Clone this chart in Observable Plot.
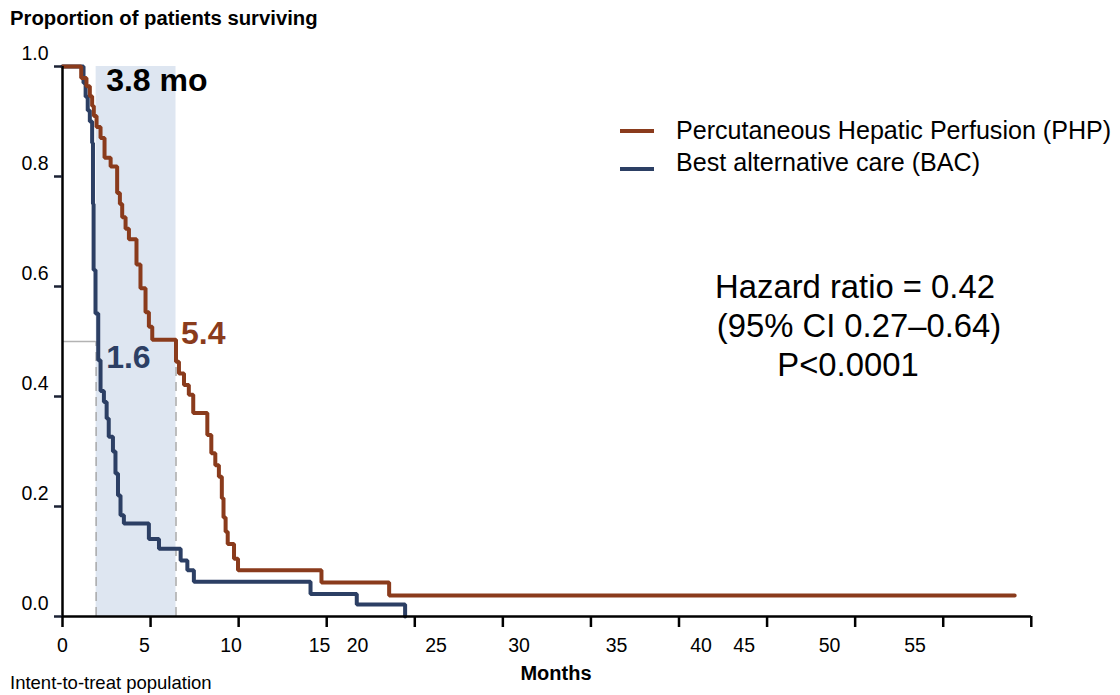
<!DOCTYPE html>
<html>
<head>
<meta charset="utf-8">
<script src="https://cdn.jsdelivr.net/npm/d3@7"></script>
<script src="https://cdn.jsdelivr.net/npm/@observablehq/plot@0.6"></script>
<style>
  html, body { margin: 0; padding: 0; background: #fff; }
  body { font-family: "Liberation Sans", Arial, sans-serif; color: #000; }
  #wrap { position: relative; width: 1120px; height: 695px; overflow: hidden; }
  #title { height: 36px; line-height: 36px; padding-left: 10px; font-weight: bold; font-size: 20.3px; }
  .abs { position: absolute; white-space: nowrap; }
  .swatch { position: absolute; width: 34px; height: 4px; }
</style>
</head>
<body>
<div id="wrap">
  <div id="title">Proportion of patients surviving</div>
  <div id="chart"></div>
  <div id="legend"></div>
  <div id="stats"></div>
  <div class="abs" id="caption" style="left:10px; top:671px; font-size:18.5px; line-height:24px;">Intent-to-treat population</div>
</div>
<script>
// ---- Data ----
const seriesNames = ["Percutaneous Hepatic Perfusion (PHP)", "Best alternative care (BAC)"];
const seriesColors = ["#8a3b1c", "#2c3f64"];

// Kaplan–Meier step points: month of event, survival after event
const phpMonths = [0, 0.89, 1.14, 1.30, 1.41, 1.49, 1.62, 1.81, 2.00, 2.29, 2.60, 2.73, 2.84, 3.00, 3.16, 3.52, 3.71, 3.95, 4.11, 4.27, 5.40, 5.54, 5.78, 6.01, 6.22, 6.89, 7.08, 7.27, 7.44, 7.58, 7.66, 7.76, 7.86, 8.16, 8.35, 12.32, 15.54, 45.3];
const phpSurv   = [1.0, 0.979, 0.964, 0.946, 0.928, 0.91, 0.89, 0.87, 0.834, 0.818, 0.77, 0.75, 0.726, 0.705, 0.686, 0.64, 0.597, 0.553, 0.527, 0.503, 0.463, 0.442, 0.421, 0.403, 0.37, 0.33, 0.297, 0.275, 0.254, 0.215, 0.18, 0.154, 0.132, 0.105, 0.084, 0.062, 0.038, 0.038];

const bacMonths = [0, 1.00, 1.10, 1.20, 1.30, 1.41, 1.45, 1.48, 1.57, 1.70, 1.81, 1.97, 2.10, 2.20, 2.40, 2.52, 2.64, 2.76, 2.92, 4.11, 4.59, 5.62, 5.94, 6.25, 11.8, 14.0, 16.3];
const bacSurv   = [1.0, 0.97, 0.945, 0.92, 0.90, 0.861, 0.75, 0.63, 0.551, 0.466, 0.41, 0.39, 0.36, 0.327, 0.30, 0.26, 0.22, 0.184, 0.169, 0.141, 0.123, 0.102, 0.084, 0.063, 0.041, 0.022, 0];

// Medians (months)
const medianMonths = [5.4, 1.6]; // PHP, BAC
const medianLevel = 0.5;

// Axis ticks
const yTicks = [0, 0.2, 0.4, 0.6, 0.8, 1.0];
const xTickMarks = [0, 4.19, 8.38, 12.57, 16.76, 20.95, 25.14, 29.33, 33.52, 37.71, 41.9, 46.09];
const xTickLabels = ["0", "5", "10", "15", "20", "25", "30", "35", "40", "45", "50", "55"];
const xTickLabelPos = [0, 3.90, 8.02, 12.23, 14.04, 17.77, 21.72, 26.36, 30.38, 32.43, 36.49, 40.56];
const xMax = 46.1;

const statLines = ["Hazard ratio = 0.42", "(95% CI 0.27\u20130.64)", "P<0.0001"];

// ---- Build tables ----
const php = phpMonths.map((m, i) => ({month: m, surv: phpSurv[i]}));
const bac = bacMonths.map((m, i) => ({month: m, surv: bacSurv[i]}));
const [phpMedian, bacMedian] = medianMonths;
const band = [{lo: bacMedian, hi: phpMedian}];
const bandLabel = (phpMedian - bacMedian).toFixed(1) + " mo";

const chart = Plot.plot({
  width: 1120,
  height: 659,
  marginLeft: 62,
  marginRight: 89,
  marginTop: 30,
  marginBottom: 79,
  style: {fontFamily: "Liberation Sans, Arial, sans-serif", fontSize: "19.5px", background: "white", overflow: "visible"},
  x: {domain: [0, xMax]},
  y: {domain: [0, 1]},
  marks: [
    Plot.rect(band, {x1: "lo", x2: "hi", y1: 0, y2: 1, fill: "#dee6f1"}),
    Plot.ruleY([medianLevel], {x1: 0, x2: bacMedian, stroke: "#b3b3b3", strokeWidth: 1.5}),
    Plot.ruleX(medianMonths, {y1: 0, y2: medianLevel, stroke: "#a9a9a9", strokeWidth: 1.5, strokeDasharray: "9,6"}),
    Plot.line(bac, {x: "month", y: "surv", curve: "step-after", stroke: seriesColors[1], strokeWidth: 4, strokeLinejoin: "miter"}),
    Plot.line(php, {x: "month", y: "surv", curve: "step-after", stroke: seriesColors[0], strokeWidth: 4, strokeLinejoin: "miter"}),
    // axis lines
    Plot.ruleX([0], {y1: 0, y2: 1, stroke: "#000", strokeWidth: 2.5}),
    Plot.ruleY([0], {stroke: "#000", strokeWidth: 2.5}),
    // y ticks + labels
    Plot.axisY({ticks: yTicks, tickSize: 8, tickFormat: () => "", stroke: "#1b2235", strokeWidth: 2.5, label: null}),
    Plot.axisY({ticks: yTicks, tickSize: 0, tickPadding: 14, dy: -13, tickFormat: d3.format(".1f"), fontSize: 19.5, label: null}),
    // x ticks + labels
    Plot.axisX({ticks: xTickMarks, tickSize: 11, tickFormat: () => "", stroke: "#000", strokeWidth: 2.5, label: null}),
    Plot.axisX({ticks: xTickLabelPos, tickSize: 0, tickPadding: 22, tickFormat: d => xTickLabels[xTickLabelPos.indexOf(d)], fontSize: 19.5, label: null}),
    Plot.text(["Months"], {frameAnchor: "bottom", dy: 63, dx: 9, fontWeight: "bold", fontSize: 20}),
    // annotations
    Plot.text(band, {x: "lo", y: 1, text: () => bandLabel, textAnchor: "start", dx: 10, dy: 14, fontSize: 32, fontWeight: "bold", fill: "#000"}),
    Plot.text([phpMedian], {x: d => d, y: medianLevel, text: d => d.toFixed(1), textAnchor: "start", dx: 5, dy: -8, fontSize: 32, fontWeight: "bold", fill: seriesColors[0]}),
    Plot.text([bacMedian], {x: d => d, y: medianLevel, text: d => d.toFixed(1), textAnchor: "start", dx: 10, dy: 16, fontSize: 32, fontWeight: "bold", fill: seriesColors[1]})
  ]
});
document.getElementById("chart").appendChild(chart);

// ---- Legend ----
const legend = document.getElementById("legend");
const swatchTops = [129, 167];
const textTops = [115, 147];
seriesNames.forEach((name, i) => {
  const sw = document.createElement("div");
  sw.className = "swatch";
  sw.style.left = "620px";
  sw.style.top = swatchTops[i] + "px";
  sw.style.background = seriesColors[i];
  legend.appendChild(sw);
  const t = document.createElement("div");
  t.className = "abs";
  t.style.left = "676px";
  t.style.top = textTops[i] + "px";
  t.style.fontSize = "25.1px";
  t.style.lineHeight = "30px";
  t.textContent = name;
  legend.appendChild(t);
});

// ---- Hazard ratio text ----
const stats = document.getElementById("stats");
const statCenters = [855, 859, 848];
statLines.forEach((s, i) => {
  const d = document.createElement("div");
  d.className = "abs";
  d.style.left = (statCenters[i] - 200) + "px";
  d.style.width = "400px";
  d.style.textAlign = "center";
  d.style.top = (267 + i * 39) + "px";
  d.style.fontSize = "32.8px";
  d.style.lineHeight = "39px";
  d.textContent = s;
  stats.appendChild(d);
});
</script>
</body>
</html>
